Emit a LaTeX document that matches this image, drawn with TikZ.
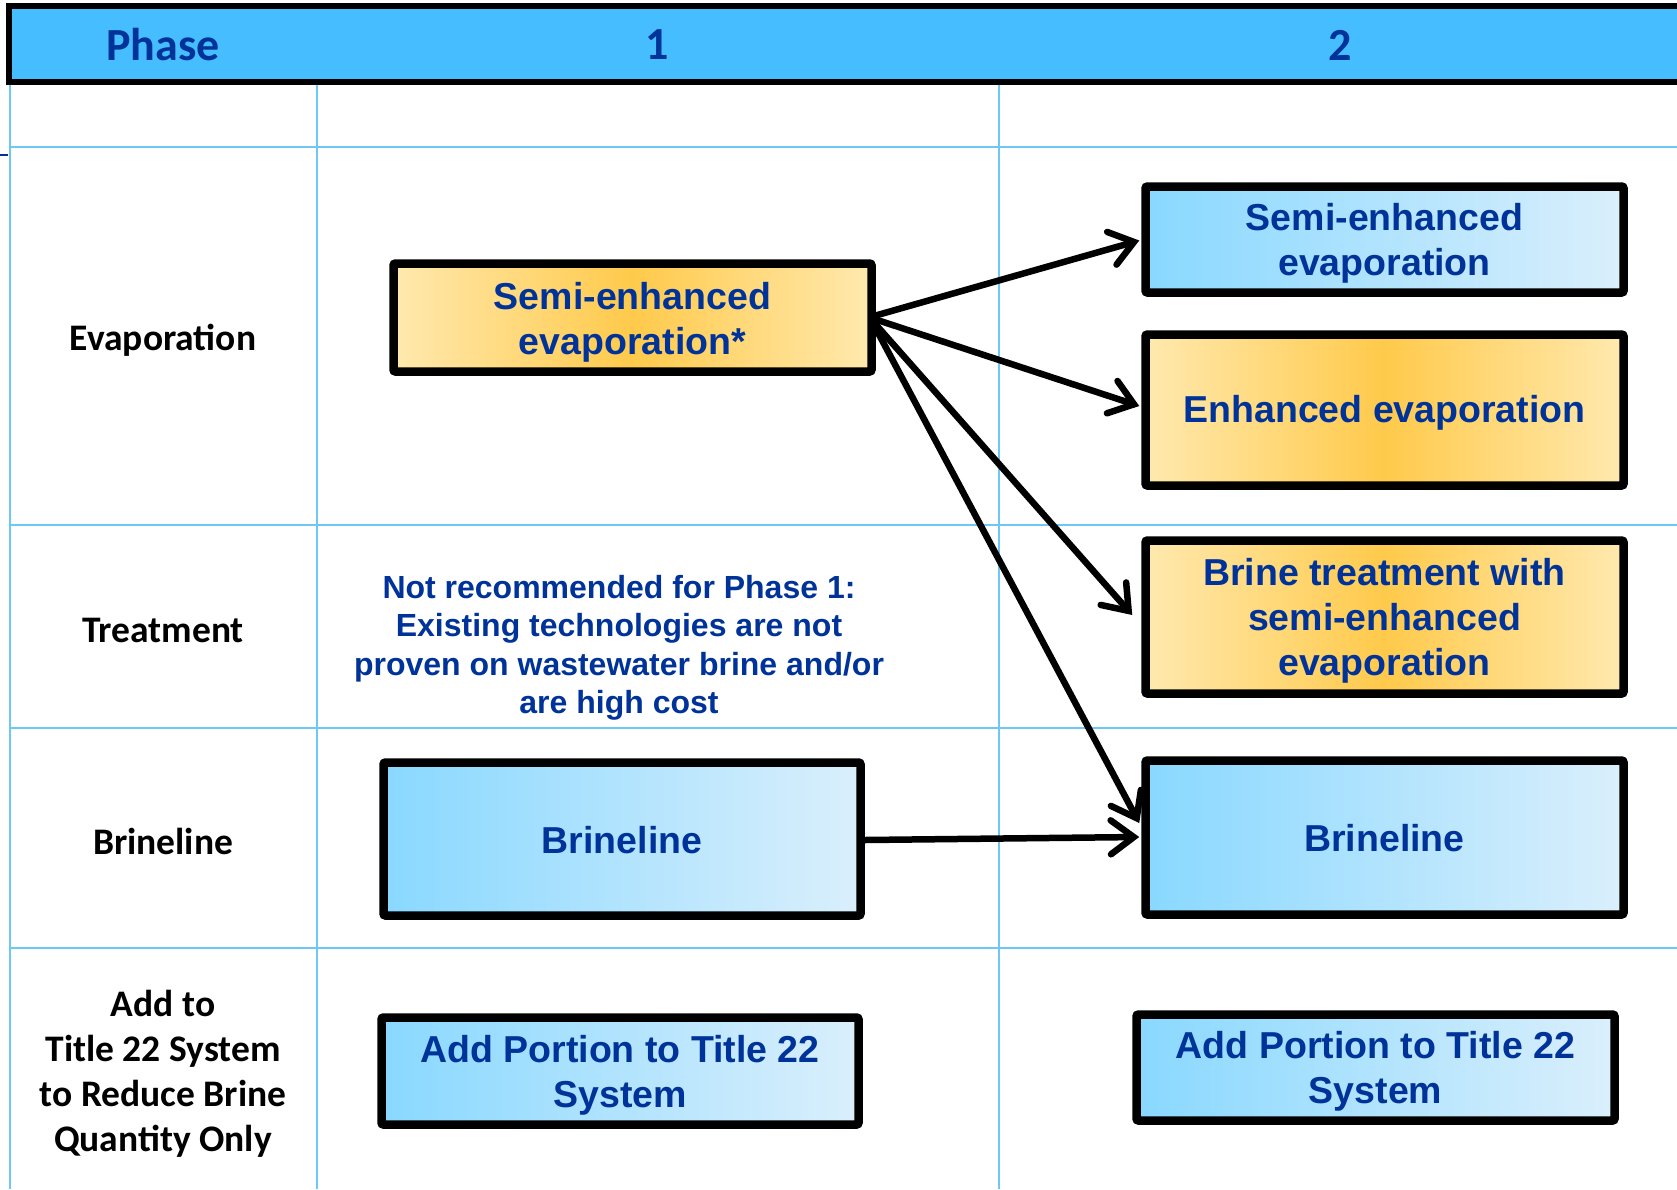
\documentclass[tikz,border=0pt]{standalone}
\usepackage{fontspec}
\setmainfont{Liberation Sans}
\newfontfamily\calib{Carlito}
\usetikzlibrary{arrows.meta}
\definecolor{hdrblue}{RGB}{69,189,255}
\definecolor{txtblue}{RGB}{0,51,153}
\definecolor{gridblue}{RGB}{110,200,245}
\definecolor{orlight}{RGB}{255,233,175}
\definecolor{ormid}{RGB}{255,202,75}
\definecolor{bll}{RGB}{137,216,255}
\definecolor{blr}{RGB}{218,239,252}
\begin{document}
\begin{tikzpicture}[x=1pt,y=-1pt,
 box/.style={draw=black, line width=8.5pt, rounded corners=2pt, inner sep=0pt},
 orbox/.style={box, left color=orlight, right color=orlight, middle color=ormid},
 blbox/.style={box, left color=bll, right color=blr},
 btxt/.style={font=\bfseries\fontsize{37.5}{45}\selectfont, text=txtblue, align=center, inner sep=0pt},
 lab/.style={font=\calib\bfseries\fontsize{37.5}{45}\selectfont, text=black, align=center},
 hdrtxt/.style={font=\calib\bfseries\fontsize{46}{50}\selectfont, text=txtblue},
 note/.style={font=\bfseries\fontsize{32}{38.5}\selectfont, text=txtblue, align=center},
 gridline/.style={draw=gridblue, line width=1.5pt},
 arr/.style={line width=6.5pt, line cap=round, -{Straight Barb[length=23pt,width=34pt,line cap=round]}}]
\useasboundingbox (0,0) rectangle (1677,1189);
\clip (0,0) rectangle (1677,1189);
% grid
\draw[gridline] (10,85) -- (10,1189);
\draw[gridline] (317,85) -- (317,1189);
\draw[gridline] (999,85) -- (999,1189);
\draw[gridline] (10,147) -- (1677,147);
\draw[gridline] (10,525) -- (1677,525);
\draw[gridline] (10,728) -- (1677,728);
\draw[gridline] (10,948) -- (1677,948);
\draw[txtblue, line width=1.5pt] (0,155) -- (8,155);
% header
\draw[fill=hdrblue, line width=6pt] (9,6) rectangle (1700,82);
\node[hdrtxt] (hphase) at (163,45) {Phase};
\node[hdrtxt] (hone) at (657,45) {1};
\node[hdrtxt] (htwo) at (1340,45) {2};
% row labels
\node[lab] (levap) at (163,340) {Evaporation};
\node[lab] (ltreat) at (163,630) {Treatment};
\node[lab] (lbrine) at (163,841) {Brineline};
\node[lab] (ladd) at (163,1074) {Add to\\Title 22 System\\to Reduce Brine\\Quantity Only};
% boxes
\node[orbox, minimum width=478pt, minimum height=108pt] (b1) at (632.5,317.5) {};
\node[blbox, minimum width=478pt, minimum height=106pt] (b2) at (1384.5,239.5) {};
\node[orbox, minimum width=478pt, minimum height=151pt] (b3) at (1384.5,410) {};
\node[orbox, minimum width=478pt, minimum height=153pt] (b4) at (1384.5,617) {};
\node[blbox, minimum width=478pt, minimum height=154pt] (b5) at (1384.5,837.5) {};
\node[blbox, minimum width=477pt, minimum height=153pt] (b6) at (622,839) {};
\node[blbox, minimum width=477pt, minimum height=107pt] (b7) at (620,1071) {};
\node[blbox, minimum width=478pt, minimum height=106pt] (b8) at (1375.5,1067.5) {};
% box texts
\node[btxt] (t1) at ([yshift=-5pt]b1.center) {Semi-enhanced\\evaporation*};
\node[btxt] (t2) at ([yshift=-4pt]b2.center) {Semi-enhanced\\evaporation};
\node[btxt] (t3) at ([yshift=-3pt]b3.center) {Enhanced evaporation};
\node[btxt] (t4) at ([yshift=-4pt]b4.center) {Brine treatment with\\semi-enhanced\\evaporation};
\node[btxt] (t5) at ([yshift=-1pt]b5.center) {Brineline};
\node[btxt] (t6) at ([yshift=-1pt]b6.center) {Brineline};
\node[btxt] (t7) at ([yshift=-4pt]b7.center) {Add Portion to Title 22\\System};
\node[btxt] (t8) at ([yshift=-4pt]b8.center) {Add Portion to Title 22\\System};
\node[note] (nt) at (619,648) {Not recommended for Phase 1:\\Existing technologies are not\\proven on wastewater brine and/or\\are high cost};
% arrows
\draw[arr] ([yshift=2pt]b1.east) -- ([xshift=-2pt,yshift=-1pt]b2.west);
\draw[arr] ([yshift=-2pt]b1.east) -- ([xshift=-2pt,yshift=4pt]b3.west);
\draw[arr] ([yshift=-7pt]b1.east) -- ([xshift=-9pt,yshift=2pt]b4.west);
\draw[arr] ([yshift=-11pt]b1.east) -- ([xshift=-2pt,yshift=14.5pt]b5.west);
\draw[arr] ([yshift=-1pt]b6.east) -- ([xshift=-2pt,yshift=0.5pt]b5.west);
\end{tikzpicture}
\end{document}
